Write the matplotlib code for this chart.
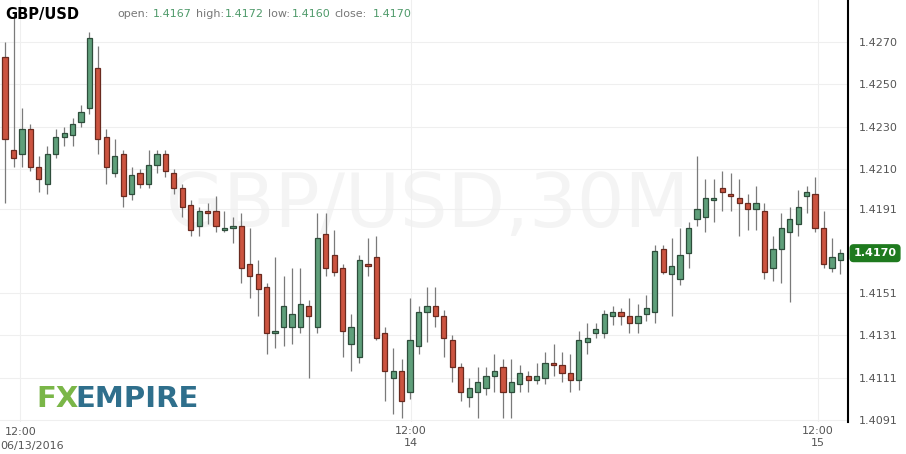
import matplotlib.pyplot as plt
import numpy as np

# GBP/USD 30M candles
opens = [1.4263, 1.4219, 1.4217, 1.4229, 1.4211, 1.4203, 1.4217, 1.4225, 1.4226, 1.4232,
         1.4239, 1.4258, 1.4225, 1.4208, 1.4217, 1.4198, 1.4208, 1.4203, 1.4212, 1.4217,
         1.4208, 1.4201, 1.4193, 1.4183, 1.4190, 1.4190, 1.4181, 1.4182, 1.4183, 1.4165,
         1.4160, 1.4154, 1.4132, 1.4135, 1.4135, 1.4135, 1.4145, 1.4135, 1.4179, 1.4169,
         1.4163, 1.4127, 1.4121, 1.4165, 1.4168, 1.4132, 1.4111, 1.4114, 1.4104, 1.4126,
         1.4142, 1.4145, 1.4140, 1.4129, 1.4116, 1.4102, 1.4104, 1.4106, 1.4112, 1.4116,
         1.4104, 1.4108, 1.4112, 1.4110, 1.4111, 1.4118, 1.4117, 1.4113, 1.4110, 1.4128,
         1.4132, 1.4132, 1.4140, 1.4142, 1.4140, 1.4137, 1.4141, 1.4142, 1.4172, 1.4160,
         1.4158, 1.4170, 1.4186, 1.4187, 1.4195, 1.4201, 1.4198, 1.4196, 1.4194, 1.4191,
         1.4190, 1.4163, 1.4172, 1.4180, 1.4184, 1.4197, 1.4198, 1.4182, 1.4163, 1.4167]
highs = [1.4270, 1.4283, 1.4239, 1.4231, 1.4216, 1.4221, 1.4229, 1.4230, 1.4234, 1.4240,
         1.4275, 1.4268, 1.4229, 1.4224, 1.4219, 1.4211, 1.4210, 1.4219, 1.4219, 1.4219,
         1.4210, 1.4203, 1.4195, 1.4192, 1.4194, 1.4197, 1.4190, 1.4187, 1.4189, 1.4182,
         1.4167, 1.4156, 1.4168, 1.4159, 1.4163, 1.4163, 1.4148, 1.4189, 1.4189, 1.4181,
         1.4165, 1.4141, 1.4169, 1.4177, 1.4178, 1.4135, 1.4125, 1.4120, 1.4149, 1.4145,
         1.4154, 1.4154, 1.4143, 1.4131, 1.4118, 1.4111, 1.4116, 1.4116, 1.4122, 1.4120,
         1.4120, 1.4117, 1.4114, 1.4118, 1.4123, 1.4127, 1.4123, 1.4122, 1.4133, 1.4137,
         1.4137, 1.4143, 1.4145, 1.4144, 1.4149, 1.4146, 1.4150, 1.4174, 1.4174, 1.4177,
         1.4182, 1.4185, 1.4216, 1.4205, 1.4205, 1.4209, 1.4208, 1.4205, 1.4198, 1.4202,
         1.4194, 1.4178, 1.4189, 1.4192, 1.4200, 1.4202, 1.4206, 1.4190, 1.4177, 1.4172]
lows = [1.4194, 1.4211, 1.4211, 1.4209, 1.4199, 1.4198, 1.4215, 1.4221, 1.4221, 1.4230,
        1.4236, 1.4217, 1.4203, 1.4206, 1.4192, 1.4195, 1.4201, 1.4201, 1.4208, 1.4206,
        1.4198, 1.4187, 1.4178, 1.4178, 1.4184, 1.4180, 1.4180, 1.4175, 1.4156, 1.4149,
        1.4140, 1.4122, 1.4125, 1.4126, 1.4127, 1.4132, 1.4111, 1.4132, 1.4159, 1.4159,
        1.4121, 1.4114, 1.4118, 1.4159, 1.4129, 1.4100, 1.4094, 1.4092, 1.4101, 1.4122,
        1.4128, 1.4135, 1.4121, 1.4109, 1.4100, 1.4097, 1.4092, 1.4103, 1.4104, 1.4092,
        1.4092, 1.4104, 1.4104, 1.4108, 1.4108, 1.4112, 1.4109, 1.4104, 1.4105, 1.4122,
        1.4130, 1.4130, 1.4136, 1.4136, 1.4132, 1.4132, 1.4138, 1.4137, 1.4160, 1.4140,
        1.4155, 1.4163, 1.4183, 1.4180, 1.4185, 1.4190, 1.4190, 1.4178, 1.4181, 1.4181,
        1.4158, 1.4157, 1.4156, 1.4147, 1.4178, 1.4189, 1.4180, 1.4163, 1.4161, 1.4160]
closes = [1.4224, 1.4215, 1.4229, 1.4211, 1.4205, 1.4217, 1.4225, 1.4227, 1.4231, 1.4237,
          1.4272, 1.4224, 1.4211, 1.4216, 1.4197, 1.4207, 1.4203, 1.4212, 1.4217, 1.4209,
          1.4201, 1.4192, 1.4181, 1.4190, 1.4189, 1.4183, 1.4182, 1.4183, 1.4163, 1.4159,
          1.4153, 1.4132, 1.4133, 1.4145, 1.4141, 1.4146, 1.4140, 1.4177, 1.4163, 1.4161,
          1.4133, 1.4135, 1.4167, 1.4164, 1.4130, 1.4114, 1.4114, 1.4100, 1.4129, 1.4142,
          1.4145, 1.4140, 1.4130, 1.4116, 1.4104, 1.4106, 1.4109, 1.4112, 1.4114, 1.4104,
          1.4109, 1.4113, 1.4110, 1.4112, 1.4118, 1.4117, 1.4113, 1.4110, 1.4129, 1.4130,
          1.4134, 1.4141, 1.4142, 1.4140, 1.4137, 1.4140, 1.4144, 1.4171, 1.4161, 1.4164,
          1.4169, 1.4182, 1.4191, 1.4196, 1.4196, 1.4199, 1.4197, 1.4194, 1.4191, 1.4194,
          1.4161, 1.4172, 1.4182, 1.4186, 1.4192, 1.4199, 1.4182, 1.4165, 1.4168, 1.4170]

price_ticks = [1.4091, 1.4111, 1.4131, 1.4151, 1.4191, 1.4210, 1.4230, 1.4250, 1.4270]
time_ticks = [1.8, 48.1, 96.3]
time_labels = ["12:00\n06/13/2016", "12:00\n14", "12:00\n15"]

UP, UP_EDGE = "#5f9f7a", "#2e4d3b"
DN, DN_EDGE = "#cc5440", "#6a2a1f"

fig = plt.figure(figsize=(9.06, 4.54), dpi=100)
ax = fig.add_axes([0, 0.0705, 0.936, 0.9295])

# watermark
ax.text(0.505, 0.51, "GBP/USD,30M", transform=ax.transAxes, fontsize=54,
        color="#f4f4f4", ha="center", va="center", zorder=0)

x = np.arange(len(opens))
for i in x:
    o, h, l, c = opens[i], highs[i], lows[i], closes[i]
    up = c >= o
    ax.vlines(i, l, h, color="#7a7a7a", lw=0.9, zorder=2)
    bot, top = min(o, c), max(o, c)
    ax.bar(i, max(top - bot, 0.00004), bottom=bot, width=0.62,
           color=UP if up else DN, edgecolor=UP_EDGE if up else DN_EDGE,
           linewidth=0.9, zorder=3)

ax.set_xlim(-0.6, 99.9)
ax.set_ylim(1.4090, 1.4290)
ax.yaxis.tick_right()
ax.set_yticks(price_ticks)
ax.set_yticklabels([f"{p:.4f}" for p in price_ticks])
ax.set_xticks(time_ticks)
ax.set_xticklabels(["", time_labels[1], time_labels[2]])
ax.tick_params(axis="both", labelsize=8, colors="#555555", length=0, pad=3)
ax.tick_params(axis="y", pad=8)
ax.grid(True, color="#efefef", lw=0.8)
for s in ["top", "left", "bottom"]:
    ax.spines[s].set_visible(False)
ax.spines["right"].set_color("black")
ax.spines["right"].set_linewidth(1.5)

# first date label, shifted left like the reference
ax.text(time_ticks[0], -0.012, "12:00", transform=ax.get_xaxis_transform(),
        fontsize=8, color="#555555", ha="center", va="top")
ax.text(-0.6, -0.045, "06/13/2016", transform=ax.get_xaxis_transform(),
        fontsize=8, color="#555555", ha="left", va="top")

# last price tag
ax.annotate(f"{closes[-1]:.4f}", xy=(1.0, closes[-1]), xycoords=("axes fraction", "data"),
            xytext=(4, 0), textcoords="offset points", ha="left", va="center",
            fontsize=8, fontweight="bold", color="white", annotation_clip=False,
            bbox=dict(boxstyle="round,pad=0.3", fc="#1e7a1e", ec="#1e7a1e"))

# header
fig.text(5 / 906, 1 - 14 / 454, "GBP/USD", fontsize=10.5, fontweight="bold", va="center")
hdr = [("open:", 117, "#777777"), ("1.4167", 153, "#4f9a6a"),
       ("high:", 196, "#777777"), ("1.4172", 225, "#4f9a6a"),
       ("low:", 268, "#777777"), ("1.4160", 292, "#4f9a6a"),
       ("close:", 334, "#777777"), ("1.4170", 373, "#4f9a6a")]
for t, px, col in hdr:
    fig.text(px / 906, 1 - 14 / 454, t, fontsize=8, color=col, va="center")

# logo
fig.text(36 / 906, 1 - 399 / 454, "FX", fontsize=21, fontweight="semibold",
         color="#7ab648", va="center")
fig.text(75 / 906, 1 - 399 / 454, "EMPIRE", fontsize=21, fontweight="semibold",
         color="#2f6f8c", va="center")

plt.savefig("out.png", dpi=100)
